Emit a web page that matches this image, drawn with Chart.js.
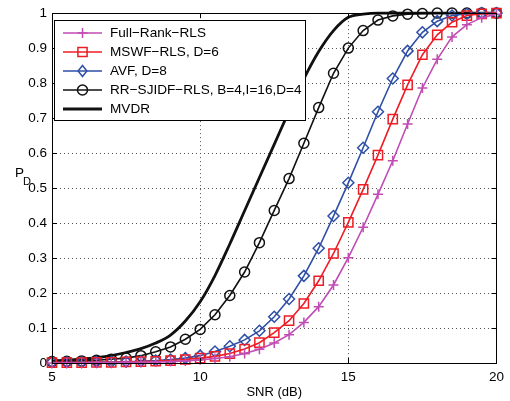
<!DOCTYPE html>
<html>
<head>
<meta charset="utf-8">
<script src="https://cdn.jsdelivr.net/npm/chart.js@4.4.1/dist/chart.umd.min.js"></script>
<style>
  html, body { margin: 0; padding: 0; background: #fff; }
  canvas { display: block; }
</style>
</head>
<body>
<canvas id="grafico" width="510" height="401"></canvas>
<script>
// SNR (dB) - asse x
const snr = [5, 5.5, 6, 6.5, 7, 7.5, 8, 8.5, 9, 9.5, 10, 10.5, 11, 11.5, 12, 12.5,
             13, 13.5, 14, 14.5, 15, 15.5, 16, 16.5, 17, 17.5, 18, 18.5, 19, 19.5, 20];

// Probabilità di rilevamento P_D per ogni metodo
const fullRankRls = [0.000, 0.000, 0.000, 0.001, 0.001, 0.002, 0.002, 0.003, 0.004, 0.006,
                     0.009, 0.013, 0.018, 0.027, 0.039, 0.057, 0.081, 0.116, 0.161, 0.223,
                     0.301, 0.388, 0.482, 0.578, 0.683, 0.786, 0.868, 0.932, 0.967, 0.987, 0.997];
const mswfRls = [0.001, 0.001, 0.001, 0.002, 0.002, 0.003, 0.004, 0.005, 0.007, 0.010,
                 0.014, 0.019, 0.027, 0.040, 0.058, 0.087, 0.121, 0.170, 0.235, 0.313,
                 0.402, 0.496, 0.594, 0.697, 0.795, 0.881, 0.938, 0.974, 0.993, 0.998, 1.000];
const avf = [0.002, 0.002, 0.002, 0.003, 0.003, 0.004, 0.005, 0.007, 0.010, 0.014,
             0.021, 0.033, 0.048, 0.066, 0.092, 0.132, 0.183, 0.249, 0.328, 0.420,
             0.515, 0.615, 0.718, 0.813, 0.892, 0.945, 0.977, 0.993, 0.998, 1.000, 1.000];
const rrSjidf = [0.004, 0.005, 0.006, 0.008, 0.011, 0.014, 0.021, 0.032, 0.046, 0.068,
                 0.096, 0.138, 0.193, 0.260, 0.344, 0.436, 0.527, 0.628, 0.730, 0.828,
                 0.900, 0.950, 0.980, 0.992, 0.997, 0.999, 1.000, 1.000, 1.000, 1.000, 1.000];
const mvdr = [0.006, 0.008, 0.011, 0.015, 0.021, 0.030, 0.041, 0.057, 0.080, 0.120,
              0.175, 0.250, 0.340, 0.435, 0.530, 0.625, 0.720, 0.812, 0.890, 0.950,
              0.988, 0.997, 1.000, 1.000, 1.000, 1.000, 1.000, 1.000, 1.000, 1.000, 1.000];

// Etichette
const seriesLabels = ['Full\u2212Rank\u2212RLS', 'MSWF\u2212RLS, D=6', 'AVF, D=8',
                      'RR\u2212SJIDF\u2212RLS, B=4,I=16,D=4', 'MVDR'];
const xTicks = [5, 10, 15, 20];
const yTicks = [0, 0.1, 0.2, 0.3, 0.4, 0.5, 0.6, 0.7, 0.8, 0.9, 1];
const yTickLabels = ['0', '0.1', '0.2', '0.3', '0.4', '0.5', '0.6', '0.7', '0.8', '0.9', '1'];

const FONT = '"Liberation Sans", Arial, Helvetica, sans-serif';

function punti(valori) {
    return snr.map((x, i) => ({ x: x, y: valori[i] }));
}

// Disegna un marker in stile Matlab (vuoto)
function disegnaMarker(ctx, stile, r, x, y, colore, spessore) {
    if (stile === false) return;
    ctx.save();
    ctx.strokeStyle = colore;
    ctx.lineWidth = spessore;
    ctx.beginPath();
    if (stile === 'cross') {
        ctx.moveTo(x - r, y); ctx.lineTo(x + r, y);
        ctx.moveTo(x, y - r); ctx.lineTo(x, y + r);
    } else if (stile === 'rect') {
        const s = r * Math.SQRT1_2;
        ctx.rect(x - s, y - s, 2 * s, 2 * s);
    } else if (stile === 'rectRot') {
        ctx.moveTo(x, y - r); ctx.lineTo(x + r * 0.8, y);
        ctx.lineTo(x, y + r); ctx.lineTo(x - r * 0.8, y); ctx.closePath();
    } else if (stile === 'circle') {
        ctx.arc(x, y, r, 0, Math.PI * 2);
    }
    ctx.stroke();
    ctx.restore();
}

// Plugin: cornice, tacche interne, etichetta P_D e legenda
const matlabPlugin = {
    id: 'matlab',
    afterDraw(chart) {
        const ctx = chart.ctx;
        const a = chart.chartArea;
        const xs = chart.scales.x, ys = chart.scales.y;
        ctx.save();
        ctx.strokeStyle = '#000';
        ctx.lineWidth = 1;
        ctx.strokeRect(Math.round(a.left) + 0.5, Math.round(a.top) + 0.5,
                       Math.round(a.right - a.left), Math.round(a.bottom - a.top));
        ctx.beginPath();
        xTicks.forEach(v => {
            const px = Math.round(xs.getPixelForValue(v)) + 0.5;
            ctx.moveTo(px, a.bottom); ctx.lineTo(px, a.bottom - 5);
            ctx.moveTo(px, a.top); ctx.lineTo(px, a.top + 5);
        });
        yTicks.forEach(v => {
            const py = Math.round(ys.getPixelForValue(v)) + 0.5;
            ctx.moveTo(a.left, py); ctx.lineTo(a.left + 5, py);
            ctx.moveTo(a.right, py); ctx.lineTo(a.right - 5, py);
        });
        ctx.stroke();

        // Etichetta asse y: P con pedice D
        ctx.fillStyle = '#000';
        ctx.textAlign = 'left';
        ctx.textBaseline = 'alphabetic';
        ctx.font = '13.5px ' + FONT;
        ctx.fillText('P', 15, 177);
        ctx.font = '11px ' + FONT;
        ctx.fillText('D', 23, 185);

        // Legenda
        const lx = 54.5, ly = 20.5, lw = 251, lh = 100;
        ctx.fillStyle = '#fff';
        ctx.fillRect(lx, ly, lw, lh);
        ctx.strokeStyle = '#000';
        ctx.lineWidth = 1;
        ctx.strokeRect(lx, ly, lw, lh);
        chart.data.datasets.forEach((ds, i) => {
            const y = 33 + i * 19;
            ctx.strokeStyle = ds.borderColor;
            ctx.lineWidth = ds.borderWidth;
            ctx.beginPath();
            ctx.moveTo(63, y); ctx.lineTo(102, y);
            ctx.stroke();
            disegnaMarker(ctx, ds.pointStyle, ds.pointRadius, 82.5, y, ds.borderColor, ds.pointBorderWidth);
            ctx.fillStyle = '#000';
            ctx.font = '13.6px ' + FONT;
            ctx.textBaseline = 'middle';
            ctx.fillText(ds.label, 110, y + 0.5);
        });
        ctx.restore();
    }
};

// Stile comune delle serie
function serie(label, valori, colore, stile, raggio, spessore) {
    return {
        label: label,
        data: punti(valori),
        borderColor: colore,
        backgroundColor: colore,
        borderWidth: spessore,
        pointStyle: stile,
        pointRadius: raggio,
        pointHoverRadius: raggio,
        pointBorderColor: colore,
        pointBackgroundColor: 'rgba(0,0,0,0)',
        pointBorderWidth: 1.5,
        tension: 0,
        clip: false
    };
}

const ctx = document.getElementById('grafico').getContext('2d');
new Chart(ctx, {
    type: 'line',
    data: {
        datasets: [
            serie(seriesLabels[0], fullRankRls, '#C04CB4', 'cross', 5, 1.6),
            serie(seriesLabels[1], mswfRls, '#EE1C25', 'rect', 6.5, 1.6),
            serie(seriesLabels[2], avf, '#2E4FA6', 'rectRot', 5.5, 1.6),
            serie(seriesLabels[3], rrSjidf, '#111111', 'circle', 5, 1.6),
            Object.assign(serie(seriesLabels[4], mvdr, '#111111', false, 0, 2.8),
                          { pointRadius: 0, cubicInterpolationMode: 'monotone' })
        ]
    },
    options: {
        responsive: false,
        animation: false,
        events: [],
        layout: { padding: { top: 13, right: 10, left: 0, bottom: 0 } },
        plugins: {
            legend: { display: false },
            tooltip: { enabled: false }
        },
        scales: {
            x: {
                type: 'linear',
                min: 5,
                max: 20,
                afterBuildTicks: s => { s.ticks = xTicks.map(v => ({ value: v })); },
                afterFit: s => { s.height = 38; },
                grid: { color: '#555', lineWidth: 1, drawTicks: false },
                border: { display: false, dash: [1, 3] },
                ticks: {
                    color: '#000',
                    padding: 6,
                    maxRotation: 0,
                    font: { family: FONT, size: 13.5 },
                    callback: v => String(v)
                },
                title: {
                    display: true,
                    text: 'SNR (dB)',
                    color: '#000',
                    font: { family: FONT, size: 13 },
                    padding: { top: 0, bottom: 1 }
                }
            },
            y: {
                type: 'linear',
                min: 0,
                max: 1,
                afterBuildTicks: s => { s.ticks = yTicks.map(v => ({ value: v })); },
                afterFit: s => { s.width = 52; },
                grid: { color: '#555', lineWidth: 1, drawTicks: false },
                border: { display: false, dash: [1, 3] },
                ticks: {
                    color: '#000',
                    padding: 5,
                    font: { family: FONT, size: 13.5 },
                    callback: (v, i) => yTickLabels[yTicks.indexOf(Math.round(v * 10) / 10)]
                }
            }
        }
    },
    plugins: [matlabPlugin]
});
</script>
</body>
</html>
